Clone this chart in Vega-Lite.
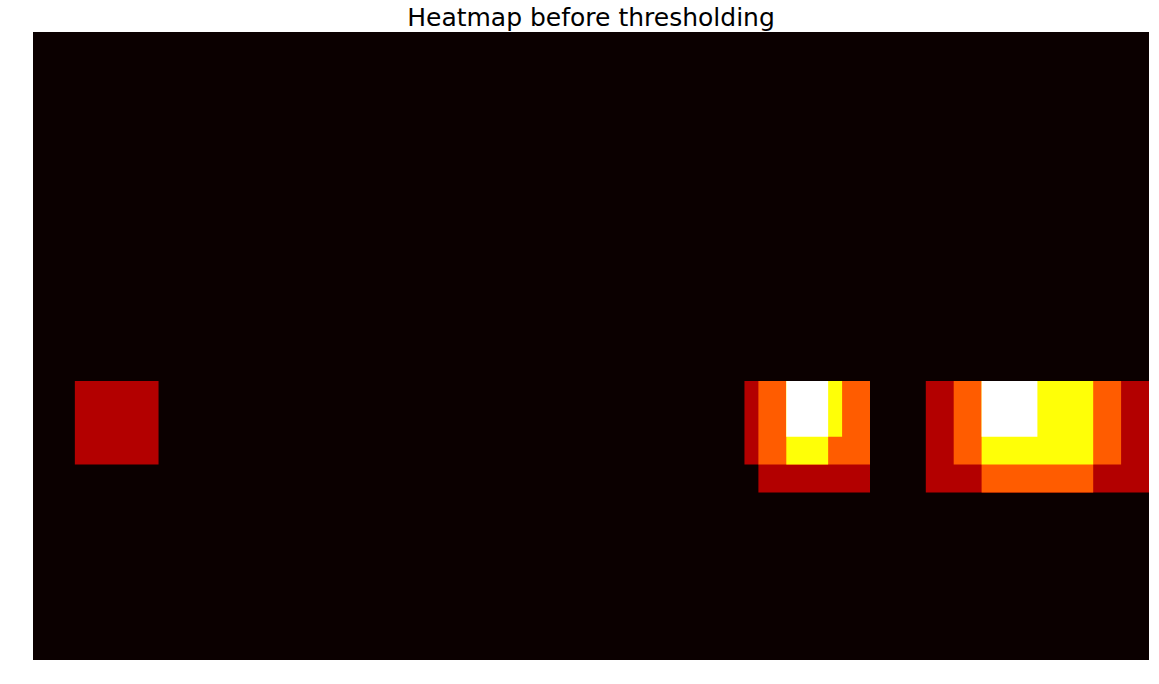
{
  "$schema": "https://vega.github.io/schema/vega-lite/v6.json",
  "width": 1116,
  "height": 628,
  "autosize": {"type": "none"},
  "padding": {"left": 33, "top": 32, "right": 10, "bottom": 24},
  "background": "white",
  "title": {"text": "Heatmap before thresholding", "font": "DejaVu Sans", "fontSize": 25, "fontWeight": "normal", "color": "black", "anchor": "middle", "offset": 0, "baseline": "alphabetic", "dy": 19},
  "config": {"view": {"stroke": null}},
  "data": {"values": [
    {"x": 0, "x2": 1280, "y": 0, "y2": 720, "v": 0},
    {"x": 48, "x2": 144, "y": 400, "y2": 496, "v": 1},
    {"x": 816, "x2": 960, "y": 400, "y2": 496, "v": 1},
    {"x": 832, "x2": 960, "y": 400, "y2": 528, "v": 1},
    {"x": 832, "x2": 960, "y": 400, "y2": 496, "v": 2},
    {"x": 864, "x2": 928, "y": 400, "y2": 464, "v": 3},
    {"x": 864, "x2": 912, "y": 400, "y2": 496, "v": 3},
    {"x": 864, "x2": 912, "y": 400, "y2": 464, "v": 4},
    {"x": 1024, "x2": 1280, "y": 400, "y2": 528, "v": 1},
    {"x": 1056, "x2": 1248, "y": 400, "y2": 496, "v": 2},
    {"x": 1088, "x2": 1216, "y": 400, "y2": 528, "v": 2},
    {"x": 1088, "x2": 1216, "y": 400, "y2": 496, "v": 3},
    {"x": 1088, "x2": 1152, "y": 400, "y2": 464, "v": 4}
  ]},
  "mark": {"type": "rect", "strokeWidth": 0},
  "encoding": {
    "x": {"field": "x", "type": "quantitative", "scale": {"domain": [0, 1280], "nice": false, "zero": false}, "axis": null},
    "x2": {"field": "x2"},
    "y": {"field": "y", "type": "quantitative", "scale": {"domain": [0, 720], "nice": false, "zero": false, "reverse": true}, "axis": null},
    "y2": {"field": "y2"},
    "color": {"field": "v", "type": "quantitative", "scale": {"domain": [0, 1, 2, 3, 4], "range": ["#0b0000", "#b30000", "#ff5c00", "#ffff07", "#ffffff"], "interpolate": "rgb"}, "legend": null}
  }
}
